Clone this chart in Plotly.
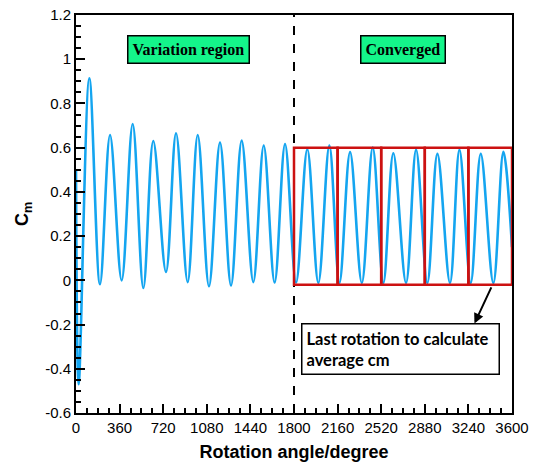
import plotly.graph_objects as go

# Moment coefficient history: turning points read along the rotation angle
angle_deg = [0, 22, 110, 198, 281, 377, 468, 556, 638, 743, 826, 922, 1005, 1098,
             1189, 1280, 1368, 1464, 1550, 1640, 1726, 1817, 1910, 2001, 2092, 2175,
             2263, 2360, 2450, 2538, 2620, 2725, 2808, 2901, 2984, 3088, 3166, 3259,
             3342, 3446, 3529, 3600]
cm_values = [0.50, -0.47, 0.914, -0.018, 0.657, 0.0, 0.707, -0.035, 0.63, 0.038, 0.665,
             -0.008, 0.657, -0.027, 0.623, -0.023, 0.632, -0.008, 0.61, -0.01, 0.616,
             -0.01, 0.593, -0.012, 0.61, -0.012, 0.58, -0.012, 0.60, -0.012, 0.575,
             -0.012, 0.59, -0.012, 0.572, -0.012, 0.59, -0.012, 0.572, -0.012, 0.581,
             0.15]

# One box per rotation in the converged part
rotation_edges = [1800, 2160, 2520, 2880, 3240, 3600]
box_low, box_high = -0.02, 0.60
split_angle = 1800

x_ticks = [0, 360, 720, 1080, 1440, 1800, 2160, 2520, 2880, 3240, 3600]
y_ticks = [-0.6, -0.4, -0.2, 0, 0.2, 0.4, 0.6, 0.8, 1, 1.2]
y_tick_text = ["-0.6", "-0.4", "-0.2", "0", "0.2", "0.4", "0.6", "0.8", "1", "1.2"]

fig = go.Figure()
fig.add_trace(go.Scatter(
    x=angle_deg, y=cm_values, mode="lines",
    line=dict(color="#14a5f0", width=2.6, shape="spline", smoothing=1.0),
    showlegend=False, hoverinfo="skip",
))

shapes = [dict(type="line", xref="x", yref="y", x0=split_angle, x1=split_angle,
               y0=-0.6, y1=1.2, line=dict(color="black", width=2, dash="dash"))]
for a, b in zip(rotation_edges[:-1], rotation_edges[1:]):
    shapes.append(dict(type="rect", xref="x", yref="y", x0=a, x1=b, y0=box_low, y1=box_high,
                       line=dict(color="#cc1111", width=2.5)))

annotations = [
    dict(x=925, y=1.045, xref="x", yref="y", showarrow=False,
         text="<b>Variation region</b>",
         font=dict(family="Liberation Serif", size=16, color="black"),
         bgcolor="#14f58a", bordercolor="black", borderwidth=1.5, borderpad=4),
    dict(x=2696, y=1.045, xref="x", yref="y", showarrow=False,
         text="<b>Converged</b>",
         font=dict(family="Liberation Serif", size=16, color="black"),
         bgcolor="#14f58a", bordercolor="black", borderwidth=1.5, borderpad=4),
    dict(x=2676, y=-0.31, xref="x", yref="y", showarrow=False, align="left",
         text="<b>Last rotation to calculate<br>average cm</b>",
         font=dict(family="Lato", size=16.5, color="black"),
         bgcolor="white", bordercolor="black", borderwidth=1.5, borderpad=4,
         width=188),
    dict(x=3290, y=-0.195, ax=3435, ay=-0.025, xref="x", yref="y", axref="x", ayref="y",
         showarrow=True, arrowhead=2, arrowsize=1, arrowwidth=2, arrowcolor="black",
         standoff=0, startstandoff=0, text=""),
]

fig.update_layout(
    width=534, height=463,
    margin=dict(l=76, r=22, t=15, b=50),
    paper_bgcolor="white", plot_bgcolor="white",
    shapes=shapes, annotations=annotations,
    font=dict(family="Liberation Sans", size=15, color="black"),
)
fig.update_xaxes(
    range=[0, 3600], tickvals=x_ticks, ticks="inside", ticklen=9, tickwidth=1.5,
    tickcolor="black", showline=True, linecolor="black", linewidth=2, mirror=True,
    showgrid=False, zeroline=False, automargin=False,
    minor=dict(dtick=90, tick0=0, ticks="inside", ticklen=5, tickcolor="black", showgrid=False),
    title=dict(text="<b>Rotation angle/degree</b>", font=dict(size=18), standoff=10),
    tickfont=dict(size=15),
)
fig.update_yaxes(
    range=[-0.6, 1.2], tickvals=y_ticks, ticktext=y_tick_text, ticks="inside",
    ticklen=9, tickwidth=1.5, tickcolor="black", showline=True, linecolor="black",
    linewidth=2, mirror=True, showgrid=False, zeroline=False, automargin=False,
    minor=dict(dtick=0.05, tick0=0, ticks="inside", ticklen=5, tickcolor="black", showgrid=False),
    title=dict(text="<b>C<sub>m</sub></b>", font=dict(size=18), standoff=12),
    tickfont=dict(size=15),
)

fig.write_html("out.html")
